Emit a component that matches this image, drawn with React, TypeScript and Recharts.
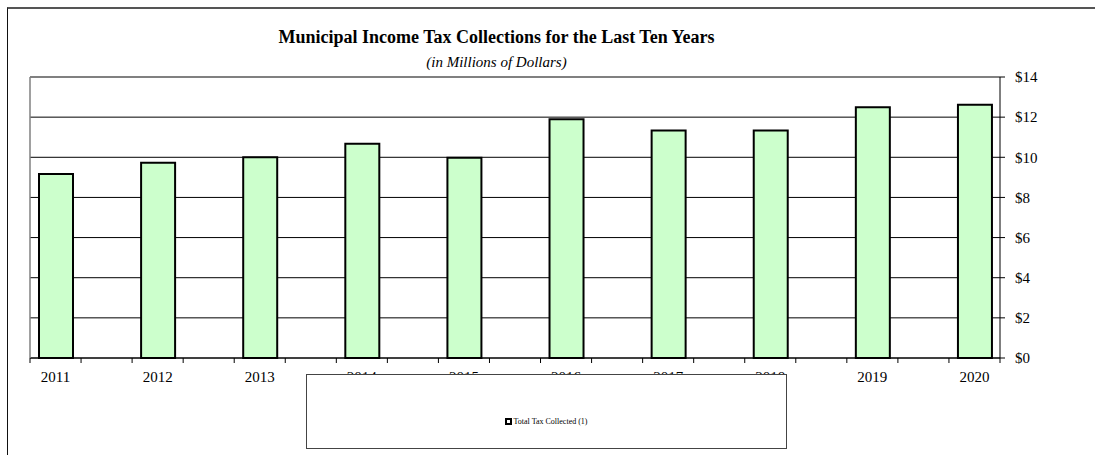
import { type FC } from "react";
import {
  BarChart,
  Bar,
  XAxis,
  YAxis,
  CartesianGrid,
  ReferenceLine,
  Legend,
} from "recharts";

const years = ["2011", "2012", "2013", "2014", "2015", "2016", "2017", "2018", "2019", "2020"];
const totalCollected = [9.17, 9.73, 10.0, 10.68, 9.98, 11.89, 11.34, 11.33, 12.49, 12.62];
const yTicks = [0, 2, 4, 6, 8, 10, 12, 14];

// Excel-style axis: each year sits in its own slot with an empty slot between
const chartData = years.flatMap((year, i) => {
  const row = { label: year, total: totalCollected[i] };
  return i < years.length - 1 ? [row, { label: "", total: null }] : [row];
});

const FONT = "'Liberation Serif', 'Times New Roman', serif";
const PLOT_LEFT = 30;
const PLOT_RIGHT = 1000;
const BAND = (PLOT_RIGHT - PLOT_LEFT) / chartData.length;

const CategoryTick: FC<any> = ({ x, y, payload, index }) => {
  const left = x - BAND / 2;
  const isLast = index === chartData.length - 1;
  return (
    <g>
      <line x1={left} x2={left} y1={y} y2={y + 5} stroke="#000" />
      {isLast && <line x1={x + BAND / 2} x2={x + BAND / 2} y1={y} y2={y + 5} stroke="#000" />}
      {payload.value && (
        <text x={x} y={y + 24} textAnchor="middle" fontSize={15} fontFamily={FONT} fill="#000">
          {payload.value}
        </text>
      )}
    </g>
  );
};

const LegendBox: FC = () => (
  <div
    style={{
      position: "relative",
      width: "100%",
      height: "100%",
      background: "#fff",
      border: "1px solid #444",
      boxSizing: "border-box",
    }}
  >
    <div
      style={{
        position: "absolute",
        left: 0,
        right: 0,
        top: 42,
        display: "flex",
        justifyContent: "center",
        alignItems: "center",
        fontFamily: FONT,
        fontSize: 8,
        color: "#000",
      }}
    >
      <span
        style={{
          display: "inline-block",
          width: 3,
          height: 3,
          background: "#fff",
          border: "2px solid #000",
          marginRight: 1,
        }}
      />
      <span style={{ color: "#000" }}>Total Tax Collected (1)</span>
    </div>
  </div>
);

const App: FC = () => {
  return (
    <div style={{ position: "absolute", left: 0, top: 0, width: 1095, height: 455, background: "#fff", overflow: "hidden" }}>
      <div
        style={{
          position: "absolute",
          left: 7,
          top: 7,
          width: 1100,
          height: 460,
          borderLeft: "1px solid #111",
          borderTop: "2px solid #555",
        }}
      />
      <div
        style={{
          position: "absolute",
          left: 0,
          width: 993,
          top: 27,
          textAlign: "center",
          fontFamily: FONT,
          fontWeight: "bold",
          fontSize: 18,
          lineHeight: "20px",
        }}
      >
        Municipal Income Tax Collections for the Last Ten Years
      </div>
      <div
        style={{
          position: "absolute",
          left: 0,
          width: 993,
          top: 53,
          textAlign: "center",
          fontFamily: FONT,
          fontStyle: "italic",
          fontSize: 15,
          lineHeight: "18px",
        }}
      >
        (in Millions of Dollars)
      </div>
      <div style={{ position: "absolute", left: 0, top: 0 }}>
        <BarChart
          width={1095}
          height={455}
          data={chartData}
          margin={{ top: 77, left: PLOT_LEFT - 1, right: 35, bottom: 67 }}
        >
          <CartesianGrid yAxisId="right" vertical={false} stroke="#000" />
          <XAxis
            dataKey="label"
            interval={0}
            tickSize={0}
            tickMargin={0}
            tickLine={false}
            axisLine={{ stroke: "#000" }}
            height={30}
            tick={(props: any) => <CategoryTick {...props} />}
          />
          <YAxis
            yAxisId="left"
            orientation="left"
            width={1}
            domain={[0, 14]}
            ticks={yTicks}
            tick={false}
            tickLine={false}
            axisLine={{ stroke: "#808080", strokeWidth: 1.5 }}
          />
          <YAxis
            yAxisId="right"
            orientation="right"
            width={60}
            domain={[0, 14]}
            ticks={yTicks}
            interval={0}
            tickSize={5}
            tickMargin={10}
            tickLine={{ stroke: "#000" }}
            axisLine={{ stroke: "#000" }}
            tick={{ fontSize: 15, fontFamily: FONT, fill: "#000" }}
            tickFormatter={(v: number) => `$${v}`}
          />
          <ReferenceLine yAxisId="right" y={14} stroke="#808080" strokeWidth={1.5} />
          <Bar
            yAxisId="right"
            dataKey="total"
            name="Total Tax Collected (1)"
            fill="#CCFFCC"
            stroke="#000"
            strokeWidth={2}
            barSize={34}
            isAnimationActive={false}
          />
          <Legend
            layout="vertical"
            align="center"
            verticalAlign="middle"
            content={() => <LegendBox />}
            wrapperStyle={{ left: 306, top: 374, width: 481, height: 75, margin: 0 }}
          />
        </BarChart>
      </div>
    </div>
  );
};

export default App;
